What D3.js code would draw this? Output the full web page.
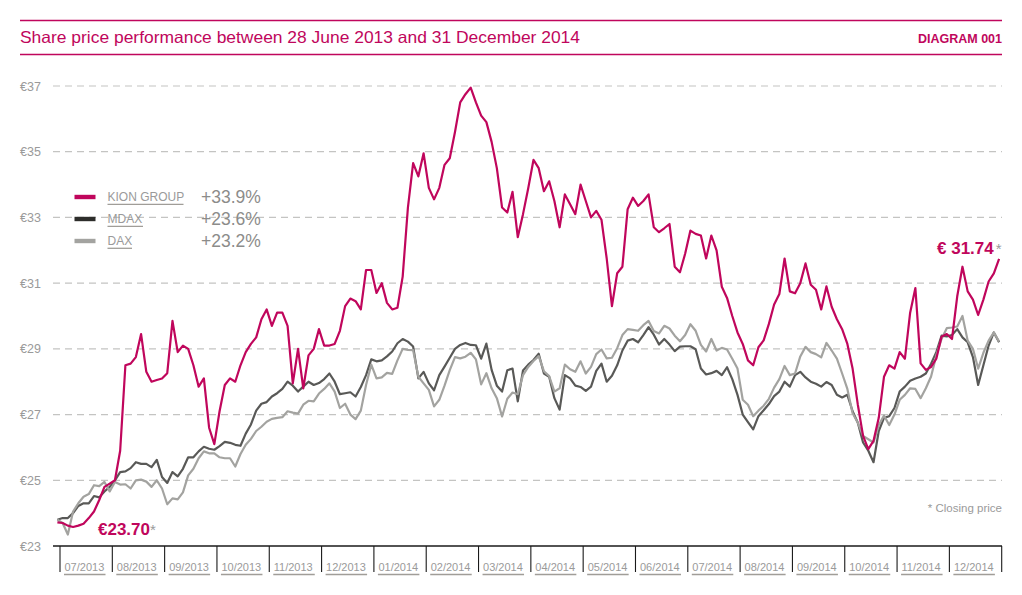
<!DOCTYPE html>
<html><head><meta charset="utf-8">
<script src="https://cdn.jsdelivr.net/npm/d3@7"></script>
<style>body{margin:0;background:#fff}svg{display:block}text{font-family:"Liberation Sans",Arial,sans-serif}</style>
</head><body><svg id="c" width="1022" height="595"></svg>
<script>
// months from 07/2013 (0) to end of 12/2014 (18); samples every 0.1 month starting 28 June 2013
const sampleStart = -0.05, sampleStep = 0.1;
const monthLabels = ["07/2013","08/2013","09/2013","10/2013","11/2013","12/2013","01/2014","02/2014","03/2014","04/2014","05/2014","06/2014","07/2014","08/2014","09/2014","10/2014","11/2014","12/2014"];
const yTicks = [23,25,27,29,31,33,35,37];
const seriesNames = ["KION GROUP","MDAX","DAX"];
const seriesPerf = ["+33.9%","+23.6%","+23.2%"];
const kion = [23.72,23.7,23.62,23.58,23.62,23.68,23.85,24.05,24.4,24.8,24.9,25.0,25.9,28.5,28.55,28.75,29.45,28.3,28.0,28.05,28.1,28.26,29.85,28.9,29.1,29.0,28.5,27.85,28.1,26.6,
26.1,27.1,27.9,28.1,28.0,28.5,28.9,29.15,29.35,29.9,30.2,29.7,30.1,30.1,29.7,27.95,29.0,27.8,28.8,29.0,29.6,29.1,29.1,29.15,29.55,30.3,30.53,30.45,30.2,31.4,
31.4,30.7,31.0,30.4,30.2,30.25,31.2,33.3,34.65,34.25,34.95,33.9,33.55,33.9,34.6,34.8,35.6,36.5,36.75,36.95,36.5,36.1,35.9,35.3,34.5,33.3,33.15,33.78,32.4,33.1,
33.89,34.75,34.5,33.8,34.1,33.5,32.7,33.7,33.4,33.1,34.0,33.5,33.0,33.2,32.93,31.75,30.3,31.3,31.5,33.25,33.6,33.35,33.5,33.7,32.7,32.55,32.67,32.8,31.5,31.33,
31.9,32.6,32.5,32.45,31.75,32.45,32.0,30.89,30.55,30.0,29.5,29.15,28.65,28.5,29.05,29.26,29.76,30.35,30.67,31.75,30.75,30.69,31.0,31.6,30.95,30.8,30.2,30.9,30.28,29.9,
29.6,29.15,28.4,27.3,26.35,25.95,26.2,26.9,28.15,28.5,28.4,28.9,28.7,30.1,30.85,28.56,28.36,28.45,28.7,29.37,29.45,29.3,30.6,31.5,30.75,30.5,30.03,30.5,31.05,31.3,31.74];
const mdax = [23.8,23.85,23.85,24.0,24.22,24.3,24.3,24.52,24.48,24.66,24.8,25.0,25.25,25.27,25.37,25.55,25.5,25.5,25.4,25.62,25.1,24.92,25.25,25.12,25.35,25.7,25.7,25.88,26.02,25.96,
25.93,26.04,26.17,26.14,26.08,26.05,26.42,26.7,27.12,27.33,27.38,27.55,27.65,27.78,28.0,27.88,27.7,27.85,28.0,27.9,27.96,28.08,28.25,28.0,27.62,27.65,27.68,27.55,27.84,28.2,
28.68,28.62,28.65,28.77,28.92,29.17,29.3,29.22,29.07,28.1,28.3,27.95,27.74,28.2,28.46,28.73,29.0,29.12,29.18,29.12,29.11,28.7,29.16,28.36,27.88,27.7,28.35,28.4,27.4,28.34,
28.52,28.66,28.85,28.25,28.15,27.5,27.15,28.2,28.1,27.88,27.84,27.72,27.85,28.33,28.55,28.0,28.18,28.5,28.95,29.25,29.3,29.2,29.42,29.66,29.43,29.13,29.3,29.13,28.93,29.07,
29.08,29.08,28.99,28.4,28.22,28.26,28.33,28.2,28.44,28.08,27.6,27.0,26.77,26.55,26.95,27.13,27.32,27.56,27.7,28.0,27.85,28.2,28.3,28.13,28.0,27.94,27.85,27.99,27.9,27.6,
27.52,27.6,27.1,26.75,26.15,25.9,25.55,26.5,26.9,26.95,27.2,27.7,27.85,28.03,28.1,28.15,28.25,28.55,28.9,29.4,29.38,29.42,29.6,29.35,29.2,28.75,27.9,28.5,29.1,29.5,29.2];
const dax = [23.8,23.7,23.35,24.05,24.3,24.5,24.58,24.85,24.82,24.95,24.66,24.95,24.87,24.88,24.75,25.0,25.02,24.96,24.8,25.0,24.75,24.27,24.45,24.42,24.63,25.15,25.35,25.67,25.88,25.82,
25.82,25.7,25.67,25.67,25.42,25.8,26.08,26.26,26.5,26.63,26.78,26.87,26.9,26.92,27.1,27.06,27.03,27.3,27.42,27.4,27.64,27.78,27.95,27.7,27.2,27.33,27.0,26.86,27.12,27.9,
28.52,28.1,28.13,28.27,28.24,28.65,29.0,28.97,28.96,28.15,27.95,27.75,27.25,27.45,27.88,28.35,28.75,28.71,28.76,28.88,28.68,27.92,28.26,27.8,27.5,26.94,27.48,27.67,27.62,28.2,
28.45,28.63,28.78,28.32,28.17,27.7,27.8,28.52,28.38,28.3,28.62,28.25,28.45,28.84,28.98,28.71,28.73,29.02,29.42,29.6,29.58,29.55,29.72,29.85,29.54,29.47,29.7,29.62,29.4,29.23,
29.42,29.75,29.55,29.12,28.92,29.3,28.95,29.03,28.98,28.7,28.4,27.45,27.3,26.95,27.12,27.27,27.48,27.82,28.08,28.48,28.2,28.25,28.77,29.06,28.9,28.84,28.74,29.18,28.95,28.7,
28.25,27.78,27.04,26.75,26.35,26.25,26.15,26.68,26.97,26.68,27.0,27.45,27.6,27.8,27.78,27.5,27.8,28.16,28.8,29.3,29.63,29.65,29.68,30.0,29.25,29.0,28.4,28.88,29.25,29.5,29.22];

const MAG = "#c0065c", DARK = "#595957", LIGHT = "#a3a3a0", GREYTXT = "#9a9a9a";
const svg = d3.select("#c");
const x = d3.scaleLinear().domain([0, 18]).range([60, 1001.7]);
const y = d3.scaleLinear().domain([23, 37]).range([546, 86]);

// header
svg.append("line").attr("x1",20).attr("x2",1002).attr("y1",20.5).attr("y2",20.5).attr("stroke",MAG).attr("stroke-width",1.3);
svg.append("line").attr("x1",20).attr("x2",1002).attr("y1",54.5).attr("y2",54.5).attr("stroke",MAG).attr("stroke-width",1.3);
svg.append("text").attr("x",20).attr("y",43).attr("fill",MAG).attr("font-size",16.5)
  .attr("textLength",560).attr("lengthAdjust","spacingAndGlyphs")
  .text("Share price performance between 28 June 2013 and 31 December 2014");
svg.append("text").attr("x",1002).attr("y",42.5).attr("fill",MAG).attr("font-size",12.5).attr("font-weight","bold")
  .attr("text-anchor","end").text("DIAGRAM 001");

// gridlines and y labels
svg.append("g").selectAll("line").data(yTicks.filter(v => v > 23)).join("line")
  .attr("x1",53).attr("x2",1002).attr("y1",d=>y(d)).attr("y2",d=>y(d))
  .attr("stroke","#c4c4c2").attr("stroke-width",1.2).attr("stroke-dasharray","7,5");
svg.append("g").selectAll("text").data(yTicks).join("text")
  .attr("x",20).attr("y",d=>y(d)+4.5).attr("fill",GREYTXT).attr("font-size",12.5)
  .text(d=>"€"+d);

// x axis
svg.append("line").attr("x1",53).attr("x2",1002).attr("y1",546).attr("y2",546).attr("stroke","#1a1a1a").attr("stroke-width",1.3);
svg.append("g").selectAll("line").data(d3.range(0, 19)).join("line")
  .attr("x1",d=>x(d)).attr("x2",d=>x(d)).attr("y1",546).attr("y2",572)
  .attr("stroke","#1a1a1a").attr("stroke-width",1.1);
const lab = svg.append("g").selectAll("g").data(monthLabels).join("g");
lab.append("text").attr("x",(d,i)=>x(i)+4.5).attr("y",571).attr("fill",GREYTXT).attr("font-size",11).text(d=>d);
lab.append("line").attr("x1",(d,i)=>x(i)+4).attr("x2",(d,i)=>x(i)+45.5).attr("y1",574.5).attr("y2",574.5)
  .attr("stroke","#a09d98").attr("stroke-width",1.4);

// lines
const line = d3.line().x((d,i)=>x(sampleStart + i*sampleStep)).y(d=>y(d)).curve(d3.curveLinear);
[[mdax,DARK],[dax,LIGHT],[kion,MAG]].forEach(([s,c])=>{
  svg.append("path").datum(s).attr("d",line).attr("fill","none").attr("stroke",c)
    .attr("stroke-width",2.2).attr("stroke-linejoin","round");
});

// legend
const legColors = [MAG, "#2d2d2b", LIGHT];
const leg = svg.append("g").selectAll("g").data(seriesNames).join("g")
  .attr("transform",(d,i)=>`translate(0,${197 + i*22})`);
leg.append("rect").attr("x",74.5).attr("y",-2.2).attr("width",21).attr("height",4.4).attr("fill",(d,i)=>legColors[i]);
leg.append("text").attr("x",107.5).attr("y",4.3).attr("fill",GREYTXT).attr("font-size",12).text(d=>d);
leg.append("line").attr("x1",107.5).attr("x2",(d,i)=>[183.5,143,132][i]).attr("y1",7.3).attr("y2",7.3)
  .attr("stroke","#a09d98").attr("stroke-width",1.3);
leg.append("text").attr("x",201).attr("y",5.8).attr("fill","#8c8c8a").attr("font-size",17.5)
  .text((d,i)=>seriesPerf[i]);

// annotations
const a1 = svg.append("text").attr("x",937).attr("y",254).attr("font-size",17).attr("font-weight","bold");
a1.append("tspan").attr("fill",MAG).text("€ 31.74");
a1.append("tspan").attr("fill",GREYTXT).attr("font-weight","normal").attr("font-size",15).attr("dx",2).text("*");
const a2 = svg.append("text").attr("x",98).attr("y",535).attr("font-size",17).attr("font-weight","bold");
a2.append("tspan").attr("fill",MAG).text("€23.70");
a2.append("tspan").attr("fill",GREYTXT).attr("font-weight","normal").attr("font-size",15).text("*");
svg.append("text").attr("x",1002).attr("y",512).attr("text-anchor","end").attr("fill",GREYTXT).attr("font-size",11.5).text("* Closing price");
</script></body></html>
